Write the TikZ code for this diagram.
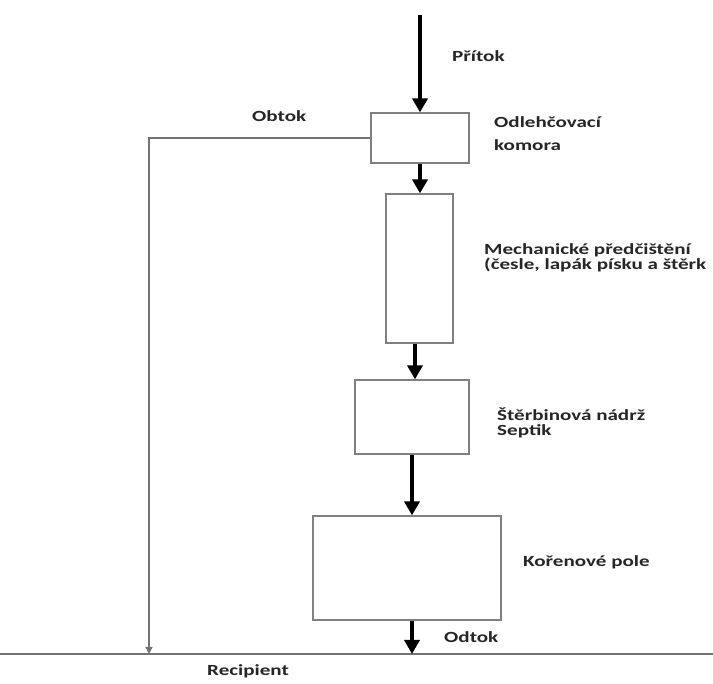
\documentclass[tikz,border=0pt]{standalone}
\usepackage{fontspec}
\usepackage{tikz}
\usetikzlibrary{arrows.meta}
\newfontfamily\popisfont{Carlito}[FakeStretch=1.36]

\begin{document}
\begin{tikzpicture}[x=1pt,y=-1pt,
    nadrz/.style={draw=black!50,line width=1.2pt,inner sep=0pt},
    tok/.style={line width=4.5pt,-{Triangle[width=15pt,length=14pt]}},
    popis/.style={font=\popisfont\bfseries\fontsize{15.5}{15}\selectfont,text=black!85,inner sep=0pt,anchor=base west,align=left}]
  \useasboundingbox (0,0) rectangle (713,684);
  \fill[white] (0,0) rectangle (713,684);

  % nadrze
  \node[nadrz,minimum width=98pt,minimum height=50pt] (komora) at (420,138) {};
  \node[nadrz,minimum width=67pt,minimum height=149pt] (mech) at (419.5,268.5) {};
  \node[nadrz,minimum width=114pt,minimum height=74pt] (septik) at (412,417) {};
  \node[nadrz,minimum width=188pt,minimum height=104pt] (pole) at (407,568) {};

  \coordinate (pritok) at (420,15);
  \coordinate (obtok) at (149,138);
  \coordinate (recL) at (0,654);
  \coordinate (recR) at (713,654);

  % recipient a obtok
  \draw[black!55,line width=2pt] (recL) -- (recR);
  \draw[black!55,line width=1.3pt,-{Triangle[width=7pt,length=7pt]}] (komora.west) -- (obtok) -- (obtok |- recL);

  % tok vody
  \draw[tok] (pritok) -- (komora.north);
  \draw[tok] (komora.south) -- (komora.south |- mech.north);
  \draw[tok] ([xshift=-4.5pt]mech.south) -- ([xshift=-4.5pt]mech.south |- septik.north);
  \draw[tok] (septik.south) -- (septik.south |- pole.north);
  \draw[tok] (septik.south |- pole.south) -- (septik.south |- recL);

  % popisky (base = posledni radek)
  \node[popis] (lPritok) at (452,62) {Přítok};
  \node[popis] (lObtok) at (252,122) {Obtok};
  \node[popis] (lKomora) at (494,151) {Odlehčovací\\[8pt]komora};
  \node[popis] (lMech) at (484,270) {Mechanické předčištění\\(česle, lapák písku a štěrk};
  \node[popis] (lSeptik) at (497,436) {Štěrbinová nádrž\\Septik};
  \node[popis] (lPole) at (523,567) {Kořenové pole};
  \node[popis] (lOdtok) at (444,642) {Odtok};
  \node[popis] (lRecipient) at (207,676) {Recipient};
\end{tikzpicture}
\end{document}
